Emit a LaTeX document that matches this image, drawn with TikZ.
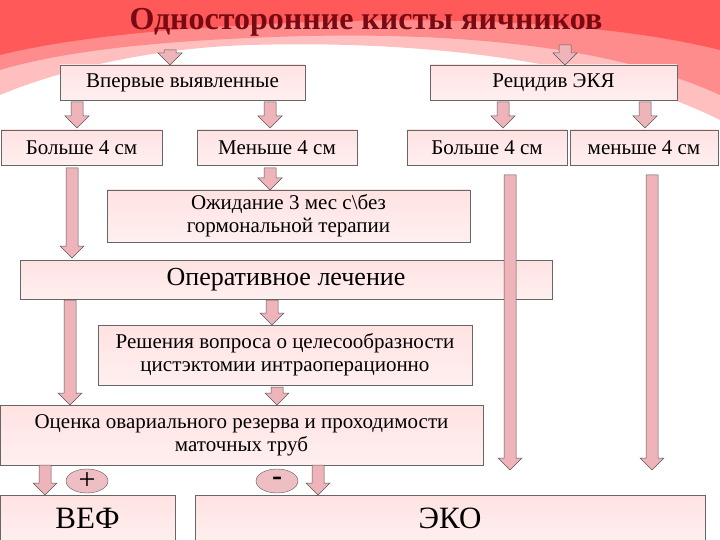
\documentclass[tikz,border=0pt]{standalone}
\usepackage{fontspec}
\setmainfont{Liberation Serif}
\tikzset{
 box/.style={draw=gray!80!black, line width=0.6pt, top color=pink!45, bottom color=pink!25, inner sep=1pt, align=center, font=\fontsize{21}{23}\selectfont},
 barrow/.style={draw=gray!70!black, line width=0.5pt, fill={rgb,255:red,238;green,180;blue,185}},
 sign/.style={ellipse, draw=gray!70!black, fill={rgb,255:red,238;green,190;blue,195}, minimum width=42pt, minimum height=24pt, inner sep=0pt, font=\fontsize{30}{30}\selectfont}
}
\usetikzlibrary{shapes.geometric}
\newcommand\myarr[3]{% x, ytop, ybottom
 \draw[barrow] (#1-6,#2) -- (#1+6,#2) -- (#1+6,#3-12) -- (#1+12,#3-12) -- (#1,#3) -- (#1-12,#3-12) -- (#1-6,#3-12) -- cycle;}
\begin{document}
\begin{tikzpicture}[x=1pt,y=-1pt]
\useasboundingbox (0,0) rectangle (720,540);
\fill[white] (0,0) rectangle (720,540);
% wave background
\fill[red!25] (0,0) -- (720,0) -- (720,120) .. controls (600,60) and (420,40) .. (250,45) .. controls (150,48) and (60,70) .. (0,95) -- cycle;
\fill[red!45] (0,0) -- (720,0) -- (720,95) .. controls (600,40) and (420,30) .. (250,38) .. controls (150,42) and (60,52) .. (0,70) -- cycle;
\fill[red!65] (0,0) -- (720,0) -- (720,50) .. controls (600,20) and (420,15) .. (250,25) .. controls (150,30) and (60,40) .. (0,55) -- cycle;
\node[font=\fontsize{32}{33}\selectfont\bfseries, text={rgb,255:red,120;green,10;blue,20}] (title) at (366,22) {Односторонние кисты яичников};
% boxes
\node[box, minimum width=245pt, minimum height=35pt] (vp) at (182.5,82.5) {Впервые выявленные};
\node[box, minimum width=247pt, minimum height=35pt] (rec) at (553.5,82.5) {Рецидив ЭКЯ};
\node[box, minimum width=161pt, minimum height=35pt] (b1) at (81.5,147.5) {Больше 4 см};
\node[box, minimum width=160pt, minimum height=35pt] (m1) at (277,147.5) {Меньше 4 см};
\node[box, minimum width=160pt, minimum height=35pt] (b2) at (487,147.5) {Больше 4 см};
\node[box, minimum width=148pt, minimum height=35pt] (m2) at (644,147.5) {меньше 4 см};
\node[box, minimum width=363pt, minimum height=52pt] (wait) at (288.5,216) {Ожидание 3 мес с\textbackslash без\\гормональной терапии};
\node[box, minimum width=532pt, minimum height=39pt, font=\fontsize{26}{27}\selectfont] (op) at (286,279.5) {Оперативное лечение};
\node[box, minimum width=374pt, minimum height=60pt] (dec) at (285,355) {Решения вопроса о целесообразности\\цистэктомии интраоперационно};
\node[box, minimum width=483pt, minimum height=60pt] (ev) at (241.5,435) {Оценка овариального резерва и проходимости\\маточных труб};
\node[box, minimum width=175pt, minimum height=47pt, font=\fontsize{31}{31}\selectfont] (vef) at (87.5,518.5) {ВЕФ};
\node[box, minimum width=510pt, minimum height=47pt, font=\fontsize{31}{31}\selectfont] (eko) at (450,518.5) {ЭКО};
% arrows
\myarr{170}{50}{65}
\myarr{565}{45}{65}
\myarr{77}{102}{128}
\myarr{270}{102}{128}
\myarr{503}{102}{128}
\myarr{645}{102}{128}
\myarr{72}{168}{258}
\myarr{270}{168}{190}
\myarr{510}{175}{470}
\myarr{652}{175}{470}
\myarr{272}{300}{325}
\myarr{70}{300}{405}
\myarr{277}{387}{405}
\myarr{45}{465}{495}
\myarr{318}{465}{495}
\node[sign] (plus) at (87,481) {+};
\node[sign] (minus) at (277,481) {\textbf{-}};
\end{tikzpicture}
\end{document}
